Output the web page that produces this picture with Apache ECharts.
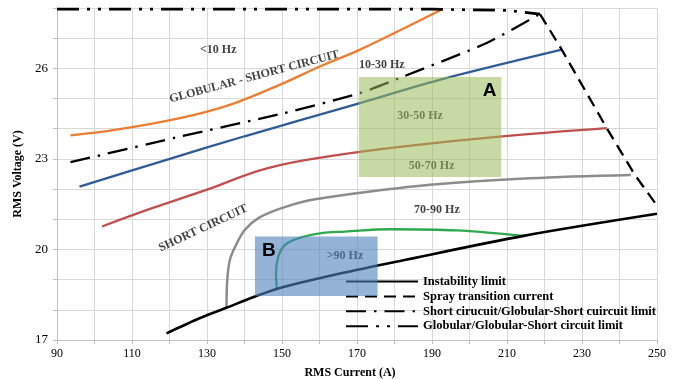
<!DOCTYPE html>
<html lang="en">
<head>
    <meta charset="UTF-8">
    <title>RMS Voltage vs RMS Current</title>
    <script src="https://cdn.jsdelivr.net/npm/echarts@6/dist/echarts.min.js"></script>
    <style>
        * { margin: 0; padding: 0; }
        body { background: #ffffff; }
        #chart { width: 678px; height: 379px; }
    </style>
</head>
<body>
    <div id="chart"></div>
    <script>
        // tick labels shown on the axes
        var xLabels = [90, 110, 130, 150, 170, 190, 210, 230, 250];
        var yLabels = [17, 20, 23, 26];

        // frequency boundary curves [current, voltage]
        var orangeCurve = [[93.6, 23.78], [105, 23.95], [122.8, 24.35], [136.1, 24.79], [149.5, 25.46], [160.1, 26.06], [170.8, 26.62], [192.6, 27.95]];
        var blueCurve = [[96, 22.08], [119.2, 22.97], [140, 23.75], [170.8, 24.85], [192, 25.62], [224.6, 26.62]];
        var redCurve = [[102, 20.76], [115, 21.35], [130, 21.98], [146, 22.69], [165.5, 23.14], [185, 23.45], [208, 23.74], [236.6, 24.02]];
        var grayCurve = [[135.2, 18.08], [135.4, 18.99], [136.1, 19.65], [137.5, 20.09], [140.1, 20.65], [143.7, 21.04], [149.9, 21.37], [157, 21.62], [166.8, 21.81], [189.5, 22.14], [216, 22.36], [243, 22.47]];
        var greenCurve = [[148.6, 18.71], [148.4, 19.21], [149, 19.76], [150.8, 20.15], [154.3, 20.37], [160.6, 20.54], [166.8, 20.59], [178.8, 20.67], [196.6, 20.63], [214.4, 20.45]];

        // limit lines
        var instabilityLimit = [[119.2, 17.22], [128, 17.72], [135.2, 18.07], [142.8, 18.44], [149, 18.71], [165.5, 19.2], [181.5, 19.62], [214.4, 20.45], [250, 21.18]];
        var sprayTransition = [[218.8, 27.8], [224.6, 26.62], [236.6, 24.02], [244.1, 22.47], [250, 21.45]];
        var shortCircuitLimit = [[93.6, 22.89], [122.8, 23.74], [150, 24.5], [170.8, 25.18], [182.4, 25.73], [204.6, 26.84], [218.8, 27.8]];
        var globularLimit = [[90, 27.96], [190, 27.96], [210, 27.92], [218.8, 27.8]];

        // shaded zones [xMin, xMax, yMin, yMax]
        var zoneA = [170.5, 208.5, 22.4, 25.71];
        var zoneB = [142.8, 175.5, 18.46, 20.43];

        // region texts [text, current, voltage, rotation]
        var regionTexts = [
            ['<10 Hz', 133, 26.62, 0],
            ['GLOBULAR - SHORT CIRCUIT', 142.6, 25.72, 15],
            ['10-30 Hz', 176.6, 26.12, 0],
            ['30-50 Hz', 186.8, 24.43, 0],
            ['50-70 Hz', 189.9, 22.78, 0],
            ['70-90 Hz', 191.3, 21.31, 0],
            ['>90 Hz', 166.8, 19.79, 0],
            ['SHORT CIRCUIT', 129, 20.7, 25]
        ];

        var serif = '"Liberation Serif", "Times New Roman", serif';

        function curve(name, data, color, width, type, smooth) {
            return {
                name: name,
                type: 'line',
                data: data,
                symbol: 'none',
                smooth: smooth,
                clip: false,
                z: 3,
                itemStyle: { color: color },
                lineStyle: { color: color, width: width, type: type }
            };
        }

        var zones = [
            { box: zoneA, color: 'rgba(155,187,89,0.55)', tag: 'A', align: 'right' },
            { box: zoneB, color: 'rgba(79,129,189,0.6)', tag: 'B', align: 'left' }
        ];

        var chart = echarts.init(document.getElementById('chart'));
        chart.setOption({
            animation: false,
            grid: { left: 57, right: 21, top: 8, bottom: 39, outerBoundsMode: 'none', containLabel: false },
            legend: {
                orient: 'vertical',
                left: 345,
                top: 275,
                padding: 0,
                itemWidth: 72,
                itemHeight: 14,
                itemGap: 1.9,
                itemStyle: { opacity: 0 },
                data: ['Instability limit', 'Spray transition current',
                    'Short cirucuit/Globular-Short cuircuit limit', 'Globular/Globular-Short circuit limit'],
                textStyle: { fontFamily: serif, fontWeight: 'bold', fontSize: 12.5, color: '#000' }
            },
            xAxis: {
                type: 'value',
                min: 90,
                max: 250,
                interval: 10,
                name: 'RMS Current (A)',
                nameLocation: 'middle',
                nameGap: 27,
                nameTextStyle: { fontFamily: serif, fontWeight: 'bold', fontSize: 12, color: '#000', padding: [0, 14, 0, 0] },
                axisLine: { lineStyle: { color: '#bfbfbf' } },
                axisTick: { show: true, length: 4, lineStyle: { color: '#bfbfbf' } },
                splitLine: { lineStyle: { color: '#d9d9d9' } },
                axisLabel: {
                    margin: 8,
                    fontFamily: serif, fontSize: 12, color: '#000',
                    formatter: function (v) { return xLabels.indexOf(v) >= 0 ? String(v) : ''; }
                }
            },
            yAxis: {
                type: 'value',
                min: 17,
                max: 28,
                interval: 1,
                name: 'RMS Voltage (V)',
                nameLocation: 'middle',
                nameGap: 27,
                nameTextStyle: { fontFamily: serif, fontWeight: 'bold', fontSize: 12, color: '#000' },
                axisLine: { show: true, lineStyle: { color: '#bfbfbf' } },
                axisTick: { show: true, length: 4, lineStyle: { color: '#bfbfbf' } },
                splitLine: { lineStyle: { color: '#d9d9d9' } },
                axisLabel: {
                    margin: 9,
                    fontFamily: serif, fontSize: 13, color: '#000',
                    formatter: function (v) { return yLabels.indexOf(v) >= 0 ? String(v) : ''; }
                }
            },
            series: [
                curve('orange', orangeCurve, '#ED7D31', 2.3, 'solid', 0.35),
                curve('blue', blueCurve, '#2F5B97', 2.3, 'solid', 0.3),
                curve('red', redCurve, '#C0504D', 2.3, 'solid', 0.4),
                curve('gray', grayCurve, '#8C8C8C', 2.5, 'solid', 0.35),
                curve('green', greenCurve, '#2FA84F', 2.3, 'solid', 0.35),
                curve('Instability limit', instabilityLimit, '#000', 2.6, 'solid', 0.3),
                curve('Spray transition current', sprayTransition, '#000', 2.3, [12, 7], false),
                curve('Short cirucuit/Globular-Short cuircuit limit', shortCircuitLimit, '#000', 2.3, [20, 8, 2.5, 8], 0.2),
                curve('Globular/Globular-Short circuit limit', globularLimit, '#000', 2.7, [22, 8, 3, 8, 3, 8], false),
                {
                    name: 'texts',
                    type: 'scatter',
                    symbolSize: 0,
                    z: 4,
                    data: regionTexts.map(function (t) {
                        return {
                            name: t[0],
                            value: [t[1], t[2]],
                            label: { rotate: t[3] }
                        };
                    }),
                    label: {
                        show: true,
                        position: 'inside',
                        formatter: '{b}',
                        fontFamily: serif,
                        fontWeight: 'bold',
                        fontSize: 12,
                        color: '#111'
                    }
                },
                {
                    name: 'zones',
                    type: 'custom',
                    z: 10,
                    data: zones.map(function (z, i) { return [i]; }),
                    renderItem: function (params, api) {
                        var z = zones[params.dataIndex];
                        var p0 = api.coord([z.box[0], z.box[3]]);
                        var p1 = api.coord([z.box[1], z.box[2]]);
                        var tx = z.align === 'right' ? p1[0] - 5 : p0[0] + 7;
                        return {
                            type: 'group',
                            children: [{
                                type: 'rect',
                                shape: { x: p0[0], y: p0[1], width: p1[0] - p0[0], height: p1[1] - p0[1] },
                                style: { fill: z.color }
                            }, {
                                type: 'text',
                                style: {
                                    x: tx, y: p0[1] + 14,
                                    text: z.tag,
                                    align: z.align === 'right' ? 'right' : 'left',
                                    verticalAlign: 'middle',
                                    font: 'bold 19px "Liberation Sans", Arial, sans-serif',
                                    fill: '#000'
                                }
                            }]
                        };
                    }
                }
            ]
        });
    </script>
</body>
</html>
